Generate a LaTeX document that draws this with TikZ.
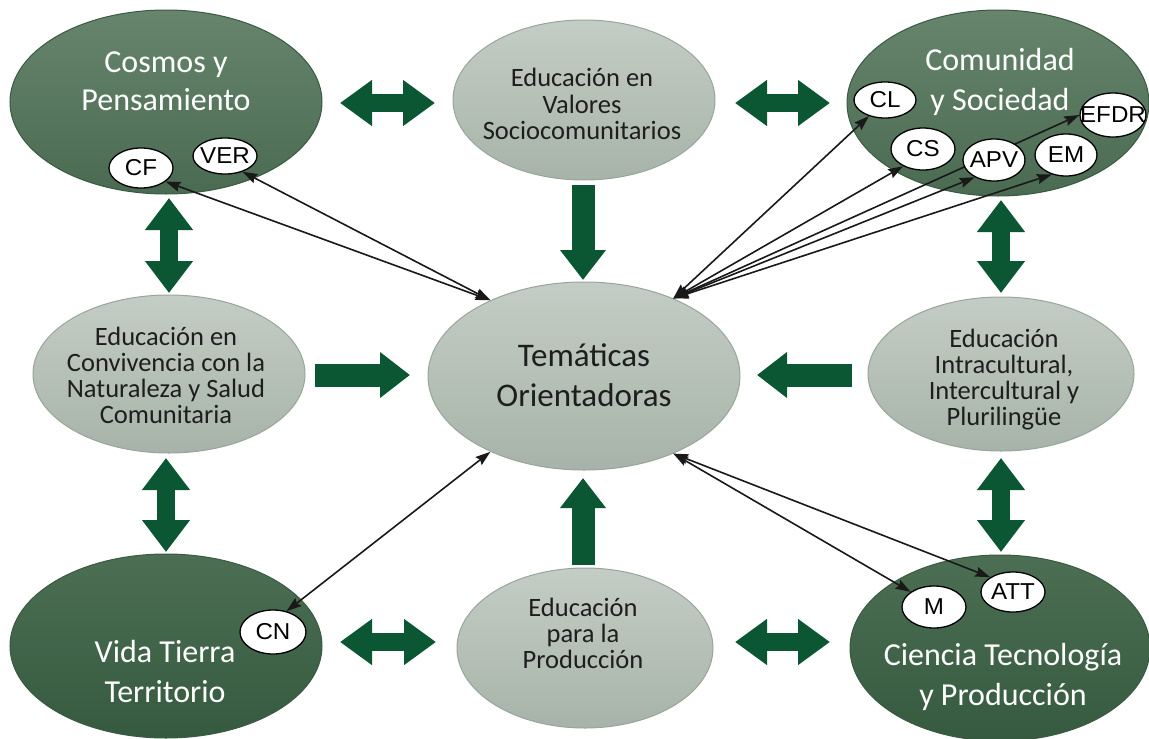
\documentclass[tikz,border=0pt]{standalone}
\usepackage{fontspec}
\setmainfont{Carlito}
\newfontfamily\labelfont[FakeStretch=1.05]{Liberation Sans}
\usetikzlibrary{shapes.geometric,arrows.meta,calc}
\definecolor{dkAtop}{HTML}{66856C}
\definecolor{dkAbot}{HTML}{4A6A51}
\definecolor{dkBtop}{HTML}{4C6F54}
\definecolor{dkBbot}{HTML}{365A3F}
\definecolor{ltTop}{HTML}{C4CDC5}
\definecolor{ltBot}{HTML}{A7B3A9}
\definecolor{ltEdge}{HTML}{98A69A}
\definecolor{dkEdge}{HTML}{3A5A41}
\definecolor{garrow}{HTML}{0B5733}
\definecolor{txtdark}{HTML}{1E1E1E}
\pgfdeclarelayer{bglayer}
\pgfdeclarelayer{fglayer}
\pgfsetlayers{bglayer,main,fglayer}
\newcommand\ttxt[1]{\begin{tabular}{@{}c@{}}#1\end{tabular}}
\tikzset{
  darkA/.style={ellipse, inner sep=0pt, top color=dkAtop, bottom color=dkAbot, draw=dkEdge, line width=1pt},
  darkB/.style={ellipse, inner sep=0pt, top color=dkBtop, bottom color=dkBbot, draw=dkEdge, line width=1pt},
  lightE/.style={ellipse, inner sep=0pt, top color=ltTop, bottom color=ltBot, draw=ltEdge, line width=1pt},
  bigtxt/.style={inner sep=0pt, text=white, font=\fontsize{32}{#1}\selectfont},
  bigtxt/.default=40,
  lighttxt/.style={inner sep=0pt, text=txtdark, font=\fontsize{26.5}{#1}\selectfont},
  lighttxt/.default=26.3,
  small/.style={ellipse, draw=black, line width=1.3pt, fill=white, inner sep=0pt,
    minimum width=64pt, minimum height=40pt, font=\labelfont\fontsize{23}{23}\selectfont},
  conn/.style={line width=1.6pt, draw=black!90,
    {Stealth[length=15pt,width=10pt,inset=2pt]}-{Stealth[length=15pt,width=10pt,inset=2pt]}},
  dbl/.style={line width=18pt, draw=garrow,
    {Triangle[width=44pt,length=32pt]}-{Triangle[width=44pt,length=32pt]}},
  sgl/.style={line width=23pt, draw=garrow, -{Triangle[width=44pt,length=30pt]}}
}
\begin{document}
\begin{tikzpicture}[x=1pt,y=-1pt]
\useasboundingbox (0,0) rectangle (1149,739);
\begin{pgfonlayer}{bglayer}
\fill[white] (0,0) rectangle (1149,739);
% big ellipses
\node[darkA, minimum width=312pt, minimum height=184pt] (cosmos) at (166,102) {};
\node[lightE, minimum width=262pt, minimum height=160pt] (valores) at (584,100) {};
\node[darkA, minimum width=302pt, minimum height=186pt] (comunidad) at (998,103) {};
\node[lightE, minimum width=272pt, minimum height=158pt] (conviv) at (169,374) {};
\node[lightE, minimum width=312pt, minimum height=188pt] (tem) at (584,376) {};
\node[lightE, minimum width=266pt, minimum height=154pt] (intra) at (1001,374) {};
\node[darkB, minimum width=312pt, minimum height=184pt] (vida) at (166,646) {};
\node[lightE, minimum width=256pt, minimum height=160pt] (prod) at (585,648) {};
\node[darkB, minimum width=300pt, minimum height=186pt] (ciencia) at (1000,648) {};
% texts
\node[bigtxt=38] (cosmosT) at (166,83.4) {\ttxt{Cosmos y\\Pensamiento}};
\node[lighttxt=26] (valoresT) at (582,107.8) {\ttxt{Educación en\\Valores\\Sociocomunitarios}};
\node[bigtxt] (comunidadT) at (1000,82) {\ttxt{Comunidad\\y Sociedad}};
\node[lighttxt] (convT) at (166,379.2) {\ttxt{Educación en\\Convivencia con la\\Naturaleza y Salud\\Comunitaria}};
\node[inner sep=0pt, text=txtdark, font=\fontsize{33}{40}\selectfont] (temT) at (584,378.7) {\ttxt{Temáticas\\Orientadoras}};
\node[lighttxt=26] (intraT) at (1004,381) {\ttxt{Educación\\Intracultural,\\Intercultural y\\Plurilingüe}};
\node[lighttxt=25] (prodT) at (583,637) {\ttxt{Educación\\para la\\Producción}};
\node[bigtxt] (vidaT) at (165,674) {\ttxt{Vida Tierra\\Territorio}};
\node[bigtxt] (cienciaT) at (1003,677) {\ttxt{Ciencia Tecnología\\y Producción}};
% block arrows
\coordinate (h1a) at (340,103); \coordinate (h1b) at (435,103);
\coordinate (h2a) at (735,103); \coordinate (h2b) at (830,103);
\coordinate (h3a) at (340,642); \coordinate (h3b) at (436,642);
\coordinate (h4a) at (735,642); \coordinate (h4b) at (830,642);
\coordinate (v1a) at (169,198); \coordinate (v1b) at (169,293);
\coordinate (v2a) at (166,458); \coordinate (v2b) at (166,552);
\coordinate (v3a) at (1001,200); \coordinate (v3b) at (1001,293);
\coordinate (v4a) at (1001,458); \coordinate (v4b) at (1001,552);
\coordinate (s1a) at (583,185); \coordinate (s1b) at (583,280);
\coordinate (s2a) at (583,565); \coordinate (s2b) at (583,478);
\coordinate (s3a) at (315,375); \coordinate (s3b) at (410,375);
\coordinate (s4a) at (852,375); \coordinate (s4b) at (757,375);
\draw[dbl] (h1a) -- (h1b);
\draw[dbl] (h2a) -- (h2b);
\draw[dbl] (h3a) -- (h3b);
\draw[dbl] (h4a) -- (h4b);
\draw[dbl, {Triangle[width=46pt,length=32pt]}-{Triangle[width=46pt,length=32pt]}] (v1a) -- (v1b);
\draw[dbl, {Triangle[width=46pt,length=32pt]}-{Triangle[width=46pt,length=32pt]}] (v2a) -- (v2b);
\draw[dbl, {Triangle[width=46pt,length=32pt]}-{Triangle[width=46pt,length=32pt]}] (v3a) -- (v3b);
\draw[dbl, {Triangle[width=46pt,length=32pt]}-{Triangle[width=46pt,length=32pt]}] (v4a) -- (v4b);
\draw[sgl] (s1a) -- (s1b);
\draw[sgl] (s2a) -- (s2b);
\draw[sgl] (s3a) -- (s3b);
\draw[sgl] (s4a) -- (s4b);
\end{pgfonlayer}
% small label ellipses
\begin{pgfonlayer}{fglayer}
\node[small] (cf) at (141,168) {\makebox[0pt]{CF}};
\node[small, minimum height=36pt] (ver) at (225,156) {\makebox[0pt]{VER}};
\node[small, minimum width=62pt, minimum height=36pt] (cl) at (885,100) {\makebox[0pt]{CL}};
\node[small, minimum height=42pt] (cs) at (923,149) {\makebox[0pt]{CS}};
\node[small, minimum width=62pt, minimum height=42pt] (apv) at (994,160) {\makebox[0pt]{APV}};
\node[small, minimum width=62pt, minimum height=42pt] (em) at (1066,155) {\makebox[0pt]{EM}};
\node[small, minimum width=66pt, minimum height=44pt] (efdr) at (1113,115) {\makebox[0pt]{EFDR}};
\node[small, minimum height=42pt] (m) at (934,607) {\makebox[0pt]{M}};
\node[small] (att) at (1013,592) {\makebox[0pt]{ATT}};
\node[small, minimum width=66pt, minimum height=44pt] (cn) at (273,632) {\makebox[0pt]{CN}};
\end{pgfonlayer}
% thin connectors
\coordinate (tTL) at (tem.141);
\coordinate (tTR) at (tem.41.6);
\coordinate (tBL) at (tem.219.3);
\coordinate (tBR) at (tem.319);
\draw[conn] (cf.331) -- (tTL);
\draw[conn] (ver.318) -- (tTL);
\draw[conn] (cl.225) -- (tTR);
\draw[conn] (cs.221) -- (tTR);
\draw[conn] (apv.222) -- (tTR);
\draw[conn] (efdr.west) -- (tTR);
\draw[conn] (em.234) -- (tTR);
\draw[conn] (cn.57) -- (tBL);
\draw[conn] (m.147) -- (tBR);
\draw[conn] (att.147) -- (tBR);
\end{tikzpicture}
\end{document}
